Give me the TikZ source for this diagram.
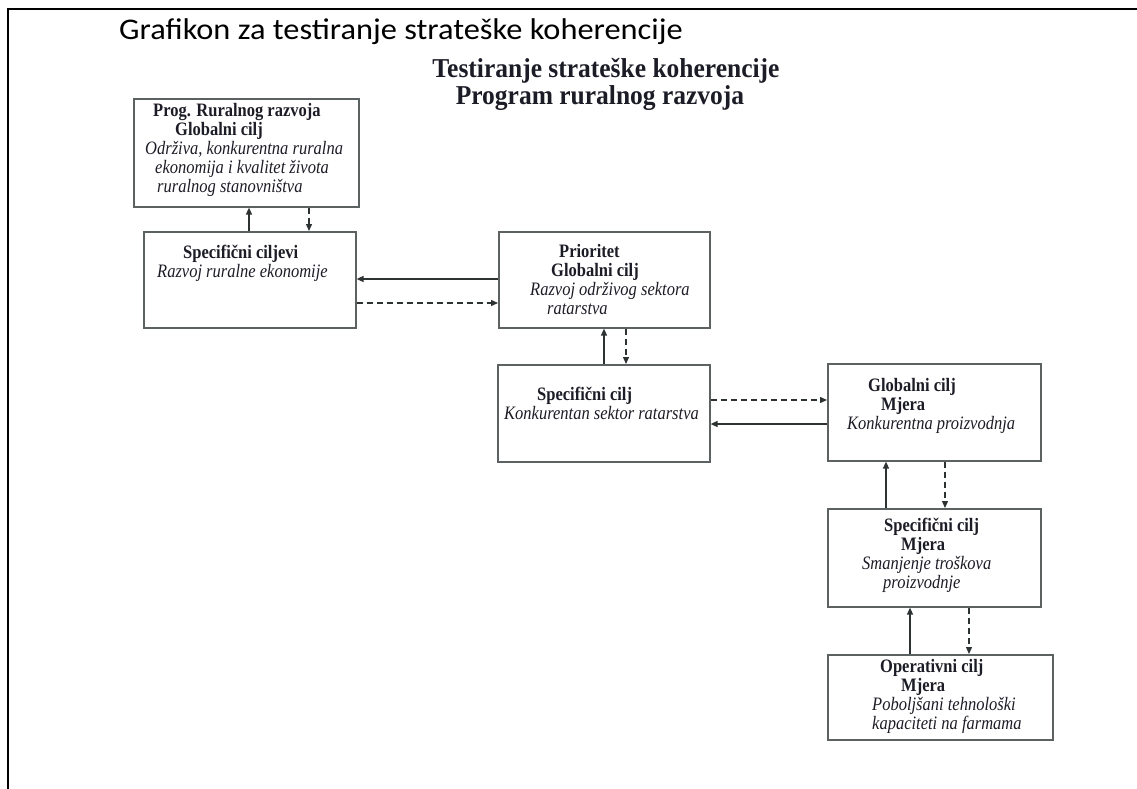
\documentclass[tikz,border=0pt]{standalone}
\usepackage{fontspec}
\usepackage{graphicx}
\setmainfont{Liberation Serif}
\newfontfamily\calibrifont{Carlito}
\usetikzlibrary{arrows.meta}
\definecolor{boxgray}{RGB}{92,98,98}
\definecolor{arrowgray}{RGB}{45,50,50}
\definecolor{inkgray}{RGB}{28,28,38}
% lines of a box, a little taller than the plain font
\newcommand{\boxlines}[1]{\scalebox{1}[1.15]{\begin{tabular}{@{}l@{}}#1\end{tabular}}}

\begin{document}
\begin{tikzpicture}[x=1pt, y=-1pt,
    goalbox/.style={draw=boxgray, line width=1.6pt, inner sep=0pt, anchor=north west},
    goaltext/.style={inner sep=0pt, anchor=north west, text=inkgray, font=\fontsize{16.5}{16.5}\selectfont},
    headtext/.style={anchor=base, inner sep=0pt, text=inkgray, font=\bfseries\fontsize{25.5}{26}\selectfont},
    solidlink/.style={draw=arrowgray, line width=1.3pt, -{Triangle[length=7pt,width=6pt]}},
    dashlink/.style={solidlink, dash pattern=on 6pt off 4pt}]

    \useasboundingbox (0,0) rectangle (1137,789);

    % Frame
    \draw[line width=2.3pt] (1137,9.2) -- (7.8,9.2) -- (7.8,789);

    % Titles
    \node[anchor=base west, inner sep=0pt, font=\calibrifont\fontsize{30}{36}\selectfont] (caption) at (119,39.5) {\scalebox{1.08}[1]{Grafikon za testiranje strateške koherencije}};
    \node[headtext] (heading1) at (606,78) {\scalebox{1}[1.07]{Testiranje strateške koherencije}};
    \node[headtext] (heading2) at (600,105) {\scalebox{1}[1.07]{Program ruralnog razvoja}};

    % Boxes
    \node[goalbox, minimum width=225pt, minimum height=108pt] (prog) at (133,98) {};
    \node[goalbox, minimum width=212pt, minimum height=96pt] (specgoals) at (143,231) {};
    \node[goalbox, minimum width=211pt, minimum height=96pt] (priority) at (498,231) {};
    \node[goalbox, minimum width=212pt, minimum height=97pt] (sector) at (497,364) {};
    \node[goalbox, minimum width=213pt, minimum height=97pt] (measure) at (827,363) {};
    \node[goalbox, minimum width=213pt, minimum height=98pt] (costs) at (827,508) {};
    \node[goalbox, minimum width=225pt, minimum height=85pt] (farms) at (827,654) {};

    % Box texts
    \node[goaltext] (progtxt) at (145,102.7) {\boxlines{\hspace*{8pt}\textbf{Prog. Ruralnog razvoja}\\
        \hspace*{30pt}\textbf{Globalni cilj}\\
        \textit{Održiva, konkurentna ruralna}\\
        \hspace*{10pt}\textit{ekonomija i kvalitet života}\\
        \hspace*{12pt}\textit{ruralnog stanovništva}}};
    \node[goaltext] (specgoalstxt) at (157,244.7) {\boxlines{\hspace*{26pt}\textbf{Specifični ciljevi}\\
        \textit{Razvoj ruralne ekonomije}}};
    \node[goaltext] (prioritytxt) at (530,243.7) {\boxlines{\hspace*{29pt}\textbf{Prioritet}\\
        \hspace*{21pt}\textbf{Globalni cilj}\\
        \textit{Razvoj održivog sektora}\\
        \hspace*{17pt}\textit{ratarstva}}};
    \node[goaltext] (sectortxt) at (504,386.7) {\boxlines{\hspace*{33pt}\textbf{Specifični cilj}\\
        \textit{Konkurentan sektor ratarstva}}};
    \node[goaltext] (measuretxt) at (847,378.2) {\boxlines{\hspace*{21pt}\textbf{Globalni cilj}\\
        \hspace*{34pt}\textbf{Mjera}\\
        \textit{Konkurentna proizvodnja}}};
    \node[goaltext] (coststxt) at (862,518.4) {\boxlines{\hspace*{22pt}\textbf{Specifični cilj}\\
        \hspace*{39pt}\textbf{Mjera}\\
        \textit{Smanjenje troškova}\\
        \hspace*{21pt}\textit{proizvodnje}}};
    \node[goaltext] (farmstxt) at (872,659.4) {\boxlines{\hspace*{8pt}\textbf{Operativni cilj}\\
        \hspace*{29pt}\textbf{Mjera}\\
        \textit{Poboljšani tehnološki}\\
        \textit{kapaciteti na farmama}}};

    % Links up and down
    \draw[solidlink] (specgoals.north -| 249,0) -- (prog.south -| 249,0);
    \draw[dashlink] (prog.south -| 309,0) -- (specgoals.north -| 309,0);
    \draw[solidlink] (priority.west |- 0,279) -- (specgoals.east |- 0,279);
    \draw[dashlink] (specgoals.east |- 0,303) -- (priority.west |- 0,303);
    \draw[solidlink] (sector.north -| 604,0) -- (priority.south -| 604,0);
    \draw[dashlink] (priority.south -| 626,0) -- (sector.north -| 626,0);
    \draw[dashlink] (sector.east |- 0,400) -- (measure.west |- 0,400);
    \draw[solidlink] (measure.west |- 0,424) -- (sector.east |- 0,424);
    \draw[solidlink] (costs.north -| 886,0) -- (measure.south -| 886,0);
    \draw[dashlink] (measure.south -| 945,0) -- (costs.north -| 945,0);
    \draw[solidlink] (farms.north -| 910,0) -- (costs.south -| 910,0);
    \draw[dashlink] (costs.south -| 969,0) -- (farms.north -| 969,0);
\end{tikzpicture}
\end{document}
